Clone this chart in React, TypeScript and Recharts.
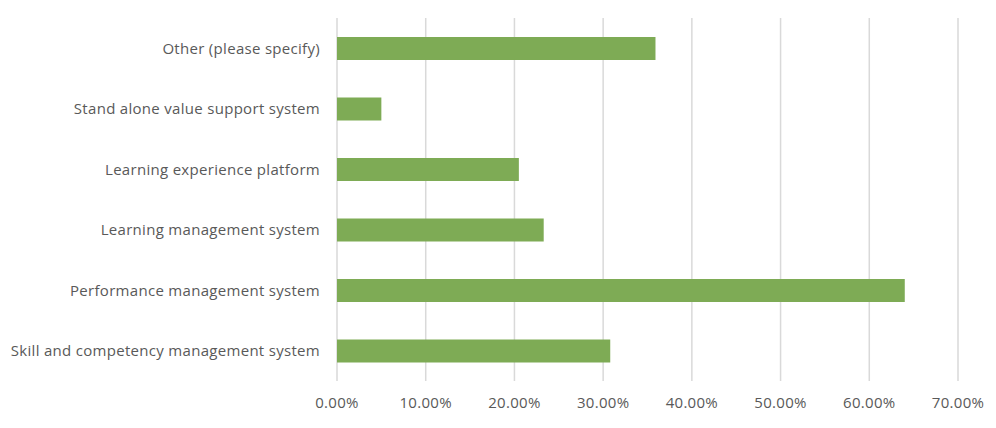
import { Bar, BarChart, CartesianGrid, XAxis, YAxis } from "recharts";

const categories = [
  "Other (please specify)",
  "Stand alone value support system",
  "Learning experience platform",
  "Learning management system",
  "Performance management system",
  "Skill and competency management system",
];

const shares = [0.359, 0.05, 0.205, 0.233, 0.64, 0.308];

const xTicks = [0, 0.1, 0.2, 0.3, 0.4, 0.5, 0.6, 0.7];

const data = categories.map((name, i) => ({ name, share: shares[i] }));

const tickStyle = {
  fill: "#595959",
  fontSize: 15,
  fontFamily: "'Open Sans', 'Noto Sans', sans-serif",
  letterSpacing: 0.3,
};

export default function App() {
  return (
    <div style={{ position: "fixed", left: 0, top: 0, width: 996, height: 428, background: "#fff" }}>
      <BarChart
        width={996}
        height={428}
        data={data}
        layout="vertical"
        margin={{ top: 18, right: 38, left: 0, bottom: 17 }}
        barSize={23}
      >
        <CartesianGrid horizontal={false} stroke="#d9d9d9" strokeWidth={1.5} />
        <XAxis
          type="number"
          domain={[0, 0.7]}
          ticks={xTicks}
          tickFormatter={(v) => `${(v * 100).toFixed(2)}%`}
          axisLine={false}
          tickLine={false}
          tickMargin={10}
          height={30}
          tick={tickStyle}
          interval={0}
        />
        <YAxis
          type="category"
          dataKey="name"
          width={337}
          axisLine={false}
          tickLine={false}
          tickMargin={11}
          tick={tickStyle}
          interval={0}
        />
        <Bar dataKey="share" fill="#7eab55" isAnimationActive={false} />
      </BarChart>
    </div>
  );
}
